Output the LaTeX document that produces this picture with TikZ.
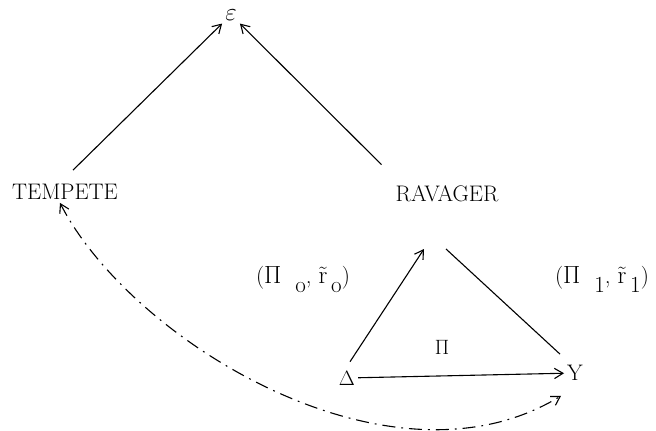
\documentclass[tikz,border=0pt]{standalone}
\usetikzlibrary{arrows.meta}
\newcommand{\lowsub}[1]{\raisebox{-9pt}{#1}}
\tikzset{
  arr/.style={-{Straight Barb[length=3mm,width=3.6mm]}, line width=1.1pt},
  darr/.style={{Straight Barb[length=3mm,width=3.6mm]}-{Straight Barb[length=3mm,width=3.6mm]}, line width=1.1pt, dash pattern=on 13pt off 6pt on 1.8pt off 6pt},
  lbl/.style={font=\fontsize{22.5}{27}\selectfont, inner sep=3pt},
  pairlbl/.style={lbl, font=\fontsize{23}{27}\selectfont}
}
\begin{document}
\begin{tikzpicture}[x=1pt, y=-1pt, every node/.style={lbl}]
\useasboundingbox (0,0) rectangle (656,431);
\node[font=\fontsize{24}{28}\selectfont] (eps) at (231,15) {$\varepsilon$};
\node (tempete) at (65,192) {TEMPETE};
\node (ravager) at (447,194) {RAVAGER};
\node (delta) at (347,378) {$\Delta$};
\node (yy) at (575,373) {Y};
\coordinate (top) at (434,249);
\node (pi) at (442,347) {$\Pi$};
\node[pairlbl] (lab0) at (303,279) {($\Pi$\ \ \lowsub{o},\ $\tilde{\mathrm r}$\,\lowsub{o})};
\node[pairlbl] (lab1) at (602,279) {($\Pi$\ \ \lowsub{1},\ $\tilde{\mathrm r}$\,\lowsub{1})};
% upper tree
\draw[arr] ([shift={(8pt,11pt)}]tempete.north) -- (eps.south west);
\draw[arr] ([shift={(-11pt,18pt)}]ravager.north west) -- (eps.south east);
% triangle
\draw[arr] (delta) -- (yy);
\draw[arr] ([shift={(3pt,6pt)}]delta.north) -- ([xshift=-10pt]top);
\draw[line width=1.1pt] ([shift={(-15pt,8pt)}]yy.north) -- ([xshift=12pt]top);
\draw[darr] ([xshift=-5pt]tempete.south) .. controls (130,340) and (390,500) .. ([shift={(-3pt,-12pt)}]yy.south west);
\end{tikzpicture}
\end{document}
